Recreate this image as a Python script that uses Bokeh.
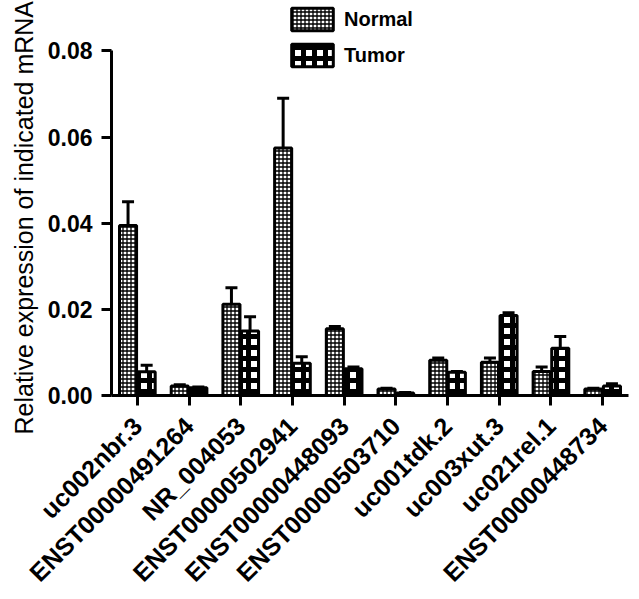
import math
from bokeh.plotting import figure
from bokeh.models import (ColumnDataSource, FactorRange, Range1d, Whisker, TeeHead,
                          Legend, LegendItem, FixedTicker, NumeralTickFormatter, Title)
from bokeh.transform import dodge
from bokeh.embed import file_html
from bokeh.resources import INLINE

# ---- data ----
genes = ["uc002nbr.3", "ENST00000491264", "NR_004053", "ENST00000502941", "ENST00000448093",
         "ENST00000503710", "uc001tdk.2", "uc003xut.3", "uc021rel.1", "ENST00000448734"]
normal = [0.0395, 0.0022, 0.0212, 0.0575, 0.0155, 0.0015, 0.0082, 0.0077, 0.0056, 0.0015]
normal_sem = [0.0055, 0.0003, 0.0038, 0.0115, 0.0005, 0.0002, 0.0005, 0.0010, 0.0010, 0.0002]
tumor = [0.0055, 0.0018, 0.0150, 0.0075, 0.0062, 0.0006, 0.0054, 0.0186, 0.0110, 0.0022]
tumor_sem = [0.0015, 0.0002, 0.0033, 0.0015, 0.0004, 0.0001, 0.0002, 0.0006, 0.0027, 0.0005]
y_ticks = [0.0, 0.02, 0.04, 0.06, 0.08]
y_axis_max = 0.08
y_title = "Relative expression of indicated mRNA"
series_names = ["Normal", "Tumor"]

src = ColumnDataSource(dict(
    gene=genes, normal=normal, tumor=tumor,
    normal_up=[v + e for v, e in zip(normal, normal_sem)],
    tumor_up=[v + e for v, e in zip(tumor, tumor_sem)],
))

FONT = "Liberation Sans"
# frame spans the full height above the x axis so the legend (drawn inside the frame) is visible;
# the y axis itself is bounded to 0..0.08
FRAME_BOTTOM = 399
AXIS_TOP = 51
p = figure(x_range=FactorRange(*genes, range_padding=0, factor_padding=0),
           y_range=Range1d(0, y_axis_max * FRAME_BOTTOM / (FRAME_BOTTOM - AXIS_TOP)),
           width=639, height=599, output_backend="svg", toolbar_location=None,
           min_border_left=108, min_border_right=11, min_border_top=0,
           min_border_bottom=599 - FRAME_BOTTOM)
p.outline_line_color = None
p.xgrid.grid_line_color = None
p.ygrid.grid_line_color = None

off = 0.18
bw = 0.33
rn = p.vbar(x=dodge("gene", -off, range=p.x_range), top="normal", width=bw, source=src,
            fill_color="white", line_color="black", line_width=3,
            hatch_pattern="cross", hatch_scale=4, hatch_weight=1.3, hatch_color="black")
rt = p.vbar(x=dodge("gene", off, range=p.x_range), top="tumor", width=bw, source=src,
            fill_color="white", line_color="black", line_width=3,
            hatch_pattern="cross", hatch_scale=11, hatch_weight=5, hatch_color="black")

for col, up, d in (("normal", "normal_up", -off), ("tumor", "tumor_up", off)):
    w = Whisker(base=dodge("gene", d, range=p.x_range), lower=col, upper=up, source=src,
                line_color="black", line_width=3, lower_head=None,
                upper_head=TeeHead(size=12, line_width=3, line_color="black"))
    p.add_layout(w)

# axes
yax = p.yaxis[0]
yax.bounds = (0, y_axis_max)
yax.ticker = FixedTicker(ticks=y_ticks)
yax.formatter = NumeralTickFormatter(format="0.00")
yax.minor_tick_line_color = None
yax.major_tick_in = 0
yax.major_tick_out = 10
yax.major_tick_line_width = 3
yax.axis_line_width = 3
yax.major_label_text_font = FONT
yax.major_label_text_font_style = "bold"
yax.major_label_text_font_size = "23px"
yax.major_label_text_color = "black"
yax.major_label_standoff = 9

# y-axis title as a side title, started below the frame like in the reference
p.add_layout(Title(text=y_title, align="left", offset=-39, standoff=14,
                   text_font=FONT, text_font_style="normal", text_font_size="25px",
                   text_color="black"), "left")

xax = p.xaxis[0]
xax.major_tick_in = 0
xax.major_tick_out = 10
xax.major_tick_line_width = 3
xax.axis_line_width = 3
xax.minor_tick_line_color = None
xax.major_label_orientation = math.pi / 4
xax.major_label_text_font = FONT
xax.major_label_text_font_style = "bold"
xax.major_label_text_font_size = "25px"
xax.major_label_text_color = "black"
xax.major_label_standoff = 16

legend = Legend(items=[LegendItem(label=series_names[0], renderers=[rn]),
                       LegendItem(label=series_names[1], renderers=[rt])],
                location=(175, 326), orientation="vertical",
                glyph_width=52, glyph_height=28, label_height=22, spacing=8,
                padding=0, margin=0, label_standoff=6,
                border_line_color=None, background_fill_alpha=0,
                label_text_font=FONT, label_text_font_style="bold",
                label_text_font_size="20px", label_text_color="black")
p.add_layout(legend, "center")

open("out.html", "w").write(file_html(p, INLINE))
